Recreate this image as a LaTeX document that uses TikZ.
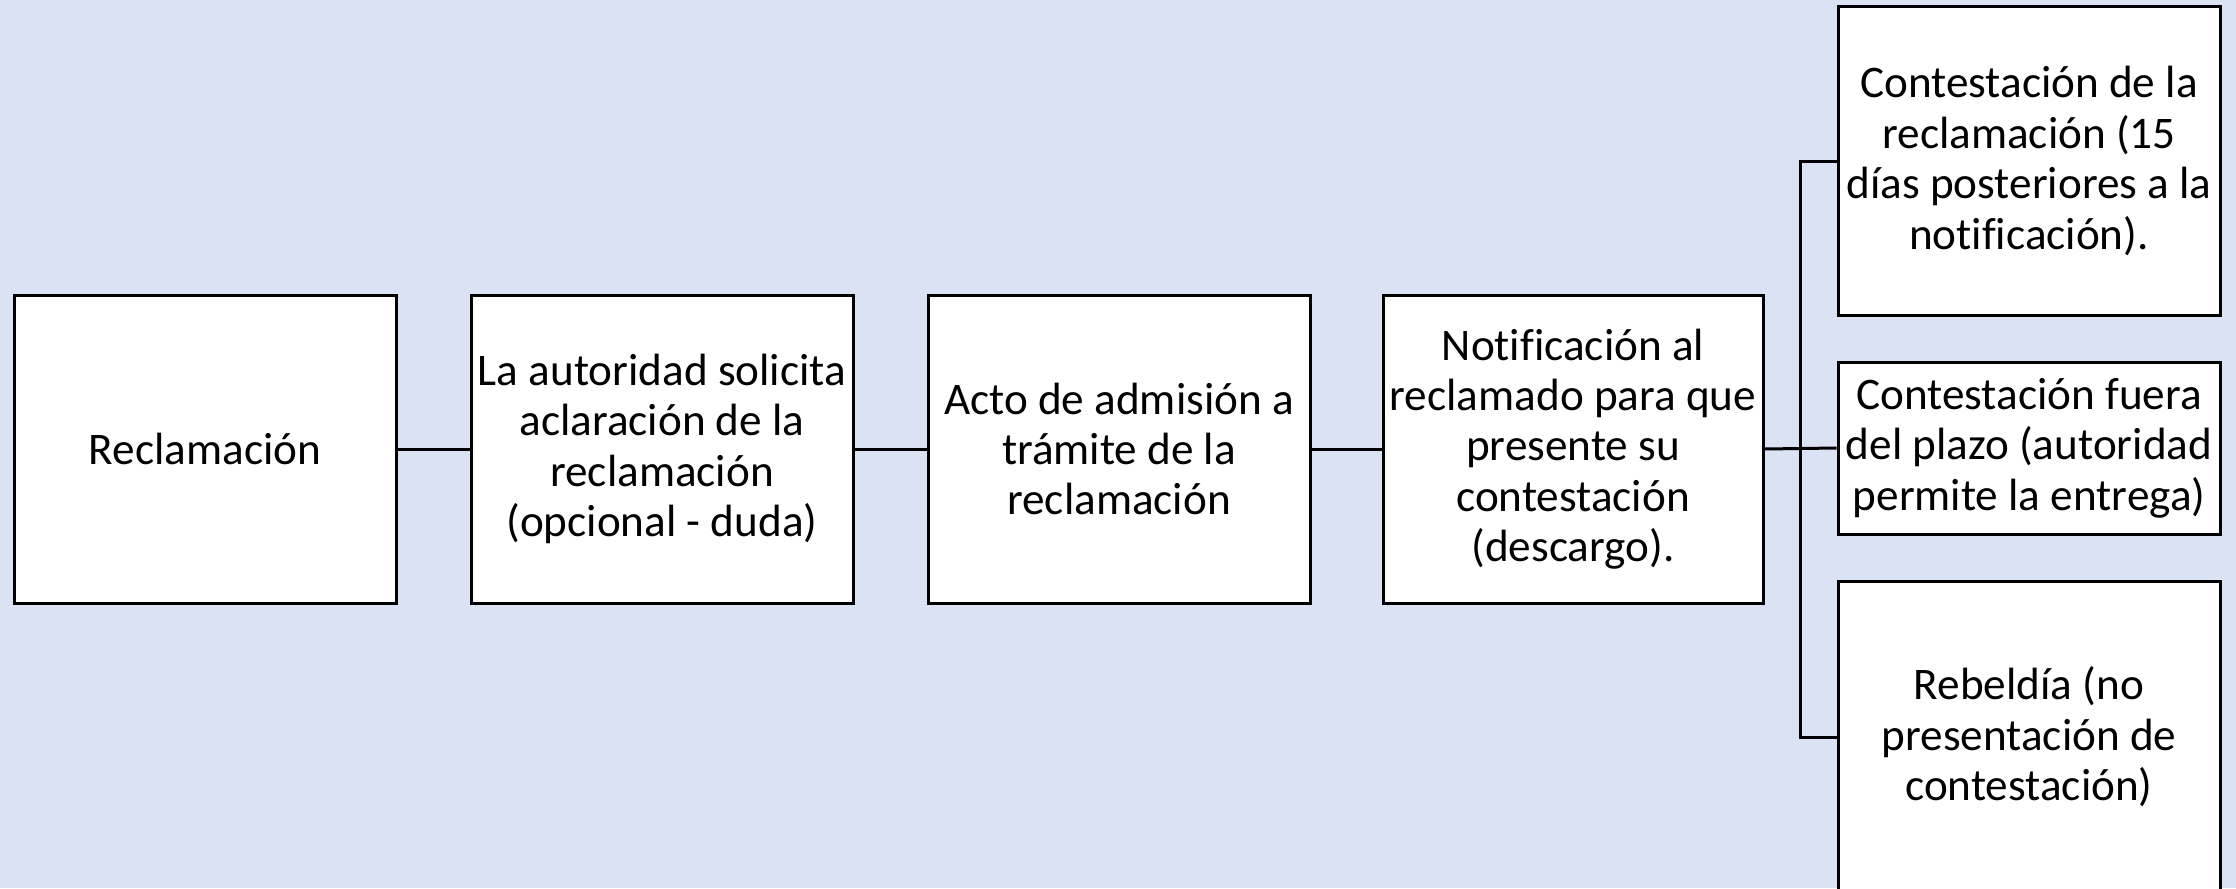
\documentclass[tikz,border=0pt]{standalone}
\usepackage{fontspec}
\setmainfont[Ligatures=NoCommon]{Carlito}
\definecolor{bgblue}{HTML}{DAE3F3}
\begin{document}
\begin{tikzpicture}[x=0.5pt,y=-0.5pt,
  box/.style={draw=black, fill=white, line width=1.5pt, rectangle, align=center,
    inner sep=0pt, font=\fontsize{22.6pt}{25.2pt}\selectfont},
  link/.style={draw=black, line width=1.5pt}]
\fill[bgblue] (0,0) rectangle (2236,888);
\useasboundingbox (0,0) rectangle (2236,888);
\node[box, minimum width=191pt, minimum height=154pt] (b1) at (205,449) {Reclamación};
\node[box, minimum width=191pt, minimum height=154pt] (b2) at (662,449) {La autoridad solicita\\aclaración de la\\reclamación\\(opcional - duda)};
\node[box, minimum width=191pt, minimum height=154pt] (b3) at (1119,449) {Acto de admisión a\\trámite de la\\reclamación};
\node[box, minimum width=190pt, minimum height=154pt] (b4) at (1573,449) {Notificación al\\reclamado para que\\presente su\\contestación\\(descargo).};
\node[box, minimum width=191pt, minimum height=154pt] (t) at (2029,161) {Contestación de la\\reclamación (15\\días posteriores a la\\notificación).};
\node[box, minimum width=191pt, minimum height=86pt] (m) at (2029,448) {Contestación fuera\\del plazo (autoridad\\permite la entrega)};
\node[box, minimum width=191pt, minimum height=156pt] (bo) at (2029,737) {Rebeldía (no\\presentación de\\contestación)};
\coordinate (bus) at (1800,448);
\draw[link] (b1.east) -- (b2.west);
\draw[link] (b2.east) -- (b3.west);
\draw[link] (b3.east) -- (b4.west);
\draw[link] (b4.east) -- (m.west);
\draw[link] (t.west) -- (t.west -| bus) -- (bo.west -| bus) -- (bo.west);
\end{tikzpicture}
\end{document}
